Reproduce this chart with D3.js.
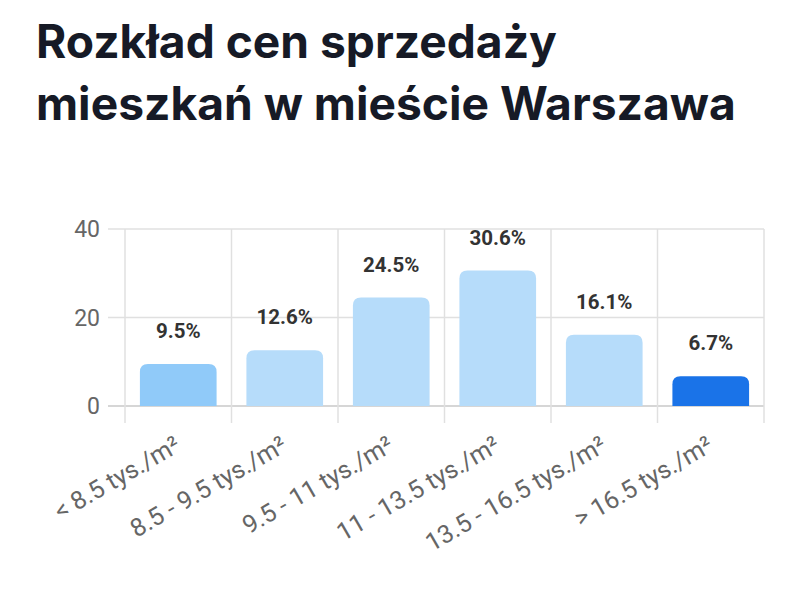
<!DOCTYPE html>
<html>
<head>
<meta charset="utf-8">
<script src="https://cdn.jsdelivr.net/npm/d3@7"></script>
<style>
  body { margin:0; background:#fff; }
  svg { display:block; }
</style>
</head>
<body>
<div id="chart"></div>
<script>
// data
var titleLines = ["Rozkład cen sprzedaży", "mieszkań w mieście Warszawa"];
var categories = ["< 8.5 tys./m²", "8.5 - 9.5 tys./m²", "9.5 - 11 tys./m²", "11 - 13.5 tys./m²", "13.5 - 16.5 tys./m²", "> 16.5 tys./m²"];
var shares = [9.5, 12.6, 24.5, 30.6, 16.1, 6.7];
var barColors = ["#90CAF9", "#B6DCFA", "#B6DCFA", "#B6DCFA", "#B6DCFA", "#1A73E8"];
var yTicks = [0, 20, 40];

var W = 800, H = 614;
var svg = d3.select("#chart").append("svg").attr("width", W).attr("height", H);

// title
var title = svg.append("g");
titleLines.forEach(function(t, i){
    title.append("text")
        .attr("x", 36)
        .attr("y", 58 + i*62)
        .attr("font-family", "Inter, 'Noto Sans', sans-serif")
        .attr("font-weight", 700)
        .attr("font-size", 40)
        .attr("fill", "#161a26")
        .text(t);
});
// fit second line width to ~700px like the original
var t2 = title.selectAll("text").nodes()[1];
var fs = 40 * 700 / t2.getComputedTextLength();
title.selectAll("text").attr("font-size", fs);

var plotL = 125, plotR = 764, plotT = 229, plotB = 406;

var x = d3.scaleBand().domain(categories).range([plotL, plotR]).padding(0);
var y = d3.scaleLinear().domain([0, 40]).range([plotB, plotT]);

// horizontal grid
svg.append("g").selectAll("line").data(yTicks).enter().append("line")
    .attr("x1", plotL - 17).attr("x2", plotR)
    .attr("y1", function(d){return y(d);}).attr("y2", function(d){return y(d);})
    .attr("stroke", function(d){return d==0 ? "#c8c8c8" : "#e0e0e0";})
    .attr("stroke-width", 1.5);

// vertical grid at band edges
var edges = categories.map(function(c){return x(c);}).concat([plotR]);
svg.append("g").selectAll("line").data(edges).enter().append("line")
    .attr("x1", function(d){return d;}).attr("x2", function(d){return d;})
    .attr("y1", plotT).attr("y2", plotB + 17)
    .attr("stroke", "#e0e0e0")
    .attr("stroke-width", 1.5);

// y labels
svg.append("g").selectAll("text").data(yTicks).enter().append("text")
    .attr("x", 100)
    .attr("y", function(d){return y(d);})
    .attr("dy", "0.36em")
    .attr("text-anchor", "end")
    .attr("font-family", "Roboto, sans-serif")
    .attr("font-size", 23)
    .attr("fill", "#666")
    .text(function(d){return d;});

// bars with rounded tops
var inset = x.bandwidth() * 0.14;
var r = 8;
function barPath(d, i){
    var x0 = x(categories[i]) + inset, x1 = x(categories[i]) + x.bandwidth() - inset;
    var y0 = y(d), yb = y(0);
    return "M" + x0 + "," + yb +
        "V" + (y0 + r) +
        "Q" + x0 + "," + y0 + " " + (x0 + r) + "," + y0 +
        "H" + (x1 - r) +
        "Q" + x1 + "," + y0 + " " + x1 + "," + (y0 + r) +
        "V" + yb + "Z";
}
svg.append("g").selectAll("path").data(shares).enter().append("path")
    .attr("d", barPath)
    .attr("fill", function(d, i){return barColors[i];});

// value labels
svg.append("g").selectAll("text").data(shares).enter().append("text")
    .attr("x", function(d, i){return x(categories[i]) + x.bandwidth()/2;})
    .attr("y", function(d){return y(d) - 26;})
    .attr("text-anchor", "middle")
    .attr("font-family", "Roboto, sans-serif")
    .attr("font-weight", 700)
    .attr("font-size", 20.5)
    .attr("fill", "#333")
    .text(function(d){return d.toFixed(1) + "%";});

// x labels rotated
svg.append("g").selectAll("text").data(categories).enter().append("text")
    .attr("transform", function(d){
        return "translate(" + (x(d) + x.bandwidth()/2 + 4) + "," + (plotB + 44) + ") rotate(-30)";
    })
    .attr("text-anchor", "end")
    .attr("font-family", "Roboto, sans-serif")
    .attr("font-size", 25)
    .attr("fill", "#666")
    .text(function(d){return d;});
</script>
</body>
</html>
